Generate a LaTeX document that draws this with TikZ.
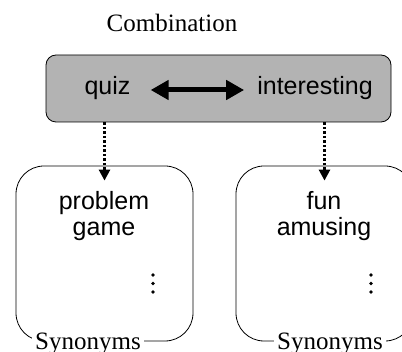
\documentclass[tikz,border=0pt]{standalone}
\usepackage{fontspec}
\setmainfont{Liberation Serif}
\newfontfamily\arialf{Liberation Sans}
\usetikzlibrary{arrows.meta}
\definecolor{boxgray}{RGB}{179,179,179}
\begin{document}
\begin{tikzpicture}[x=1pt,y=-1pt,
  sanstxt/.style={font=\arialf\fontsize{25}{28}\selectfont, inner sep=0pt, anchor=base},
  seriftxt/.style={font=\fontsize{25}{28}\selectfont, inner sep=0pt, anchor=base},
  midtxt/.style={sanstxt, anchor=center, text height=10pt, text depth=0pt},
  synbox/.style={draw, line width=0.8pt, rounded corners=28pt, minimum width=177pt, minimum height=175pt, inner sep=0pt},
  synlabel/.style={seriftxt, fill=white, inner xsep=3pt, inner ysep=3pt},
  dblarrow/.style={line width=5pt, {Triangle[length=18pt,width=19pt]}-{Triangle[length=18pt,width=19pt]}},
  dotarrow/.style={line width=2.5pt, dash pattern=on 2.5pt off 2pt, -{Triangle[length=11pt,width=11pt]}}
]
\useasboundingbox (0,0) rectangle (402,352);

% title
\node[seriftxt] (title) at (172,32) {Combination};

% combination box
\node[draw, line width=0.8pt, fill=boxgray, rounded corners=10pt,
      minimum width=345pt, minimum height=67pt, inner sep=0pt] (comb) at (218.5,88.5) {};
\node[midtxt] (quiz) at (107.5,90) {quiz};
\node[midtxt] (interesting) at (315,90) {interesting};
\draw[dblarrow] ([xshift=20pt]quiz.east) -- ([xshift=-13pt]interesting.west);

% synonym boxes
\node[synbox] (lbox) at (104.5,253.5) {};
\node[synbox] (rbox) at (324.5,253.5) {};

\node[sanstxt] (w1) at (104,210) {problem};
\node[sanstxt] (w2) at (104,236) {game};
\node[sanstxt] (w3) at (324,210) {fun};
\node[sanstxt] (w4) at (324,236) {amusing};

\foreach \yy in {275,283.5,292}{
  \fill (153,\yy) circle (1.8pt);
  \fill (371,\yy) circle (1.8pt);
}

\node[synlabel] (lsyn) at (88,350) {Synonyms};
\node[synlabel] (rsyn) at (330,350) {Synonyms};

% dotted arrows
\draw[dotarrow] (lbox.north |- comb.south) -- ([yshift=-15pt]lbox.north);
\draw[dotarrow] (rbox.north |- comb.south) -- ([yshift=-15pt]rbox.north);
\end{tikzpicture}
\end{document}
